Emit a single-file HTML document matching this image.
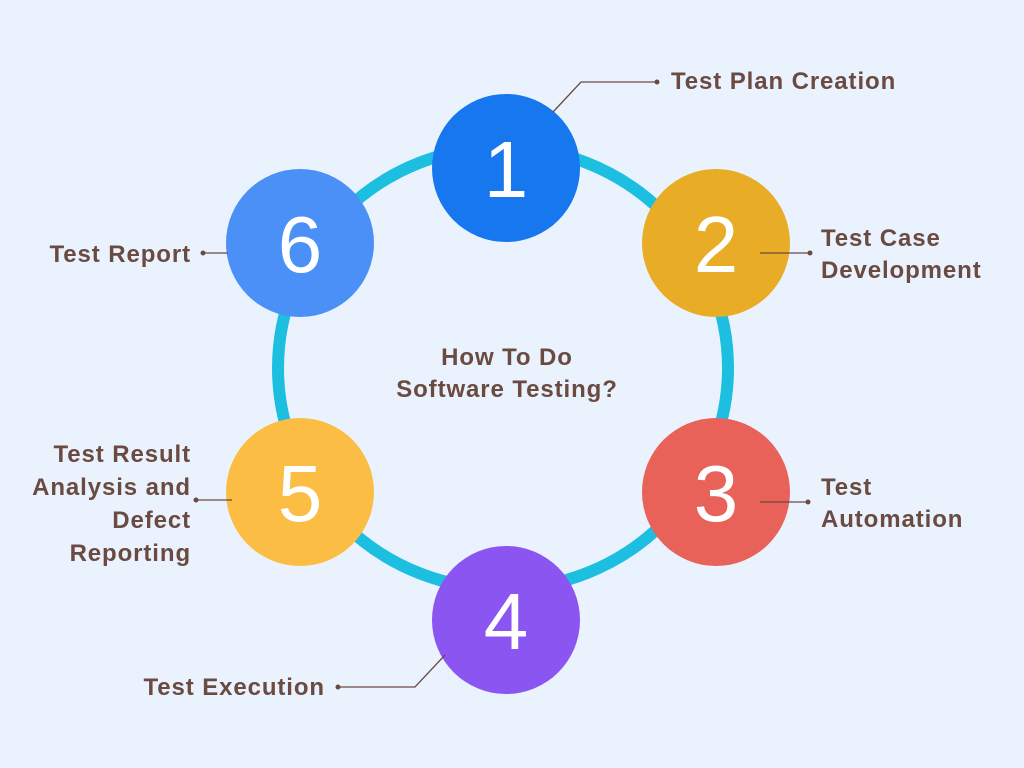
<!DOCTYPE html>
<html><head><style>
body{margin:0;width:1024px;height:768px;background:#eaf3fd;overflow:hidden;font-family:"Liberation Sans",sans-serif}
svg{position:absolute;left:0;top:0}
</style></head><body>
<svg width="1024" height="768" viewBox="0 0 1024 768">
<ellipse cx="503" cy="368" rx="225" ry="221" fill="none" stroke="#1cbfe0" stroke-width="12"/>
<g fill="#ffffff" font-family="Liberation Sans, sans-serif" font-size="80" text-anchor="middle">
<circle cx="506" cy="168" r="74" fill="#1777ee"/><text x="506" y="197">1</text>
<circle cx="716" cy="243" r="74" fill="#e8ac26"/><text x="716" y="272">2</text>
<circle cx="716" cy="492" r="74" fill="#e9625a"/><text x="716" y="521">3</text>
<circle cx="506" cy="620" r="74" fill="#8a55f0"/><text x="506" y="649">4</text>
<circle cx="300" cy="492" r="74" fill="#fbbd44"/><text x="300" y="521">5</text>
<circle cx="300" cy="243" r="74" fill="#4a90f6"/><text x="300" y="272">6</text>
</g>
<g stroke="#6b4a42" stroke-width="1.3" fill="none">
<polyline points="553,112 581,82 657,82"/>
<line x1="760" y1="253" x2="810" y2="253"/>
<line x1="760" y1="502" x2="808" y2="502"/>
<line x1="196" y1="500" x2="232" y2="500"/>
<line x1="203" y1="253" x2="228" y2="253"/>
<polyline points="338,687 415,687 445,655"/>
</g>
<g fill="#6b4a42">
<circle cx="657" cy="82" r="2.5"/><circle cx="810" cy="253" r="2.5"/><circle cx="808" cy="502" r="2.5"/>
<circle cx="196" cy="500" r="2.5"/><circle cx="203" cy="253" r="2.5"/><circle cx="338" cy="687" r="2.5"/>
</g>
<g fill="#6b4a42" font-family="Liberation Sans, sans-serif" font-weight="bold" font-size="24" letter-spacing="0.9">
<text x="671" y="89">Test Plan Creation</text>
<text x="821" y="246">Test Case</text><text x="821" y="278">Development</text>
<text x="821" y="495">Test</text><text x="821" y="527">Automation</text>
<text x="325" y="695" text-anchor="end">Test Execution</text>
<text x="191" y="262" text-anchor="end">Test Report</text>
<g text-anchor="end"><text x="191" y="462">Test Result</text><text x="191" y="495">Analysis and</text><text x="191" y="528">Defect</text><text x="191" y="561">Reporting</text></g>
<g text-anchor="middle"><text x="507" y="365">How To Do</text><text x="507" y="397">Software Testing?</text></g>
</g>
</svg>
</body></html>
